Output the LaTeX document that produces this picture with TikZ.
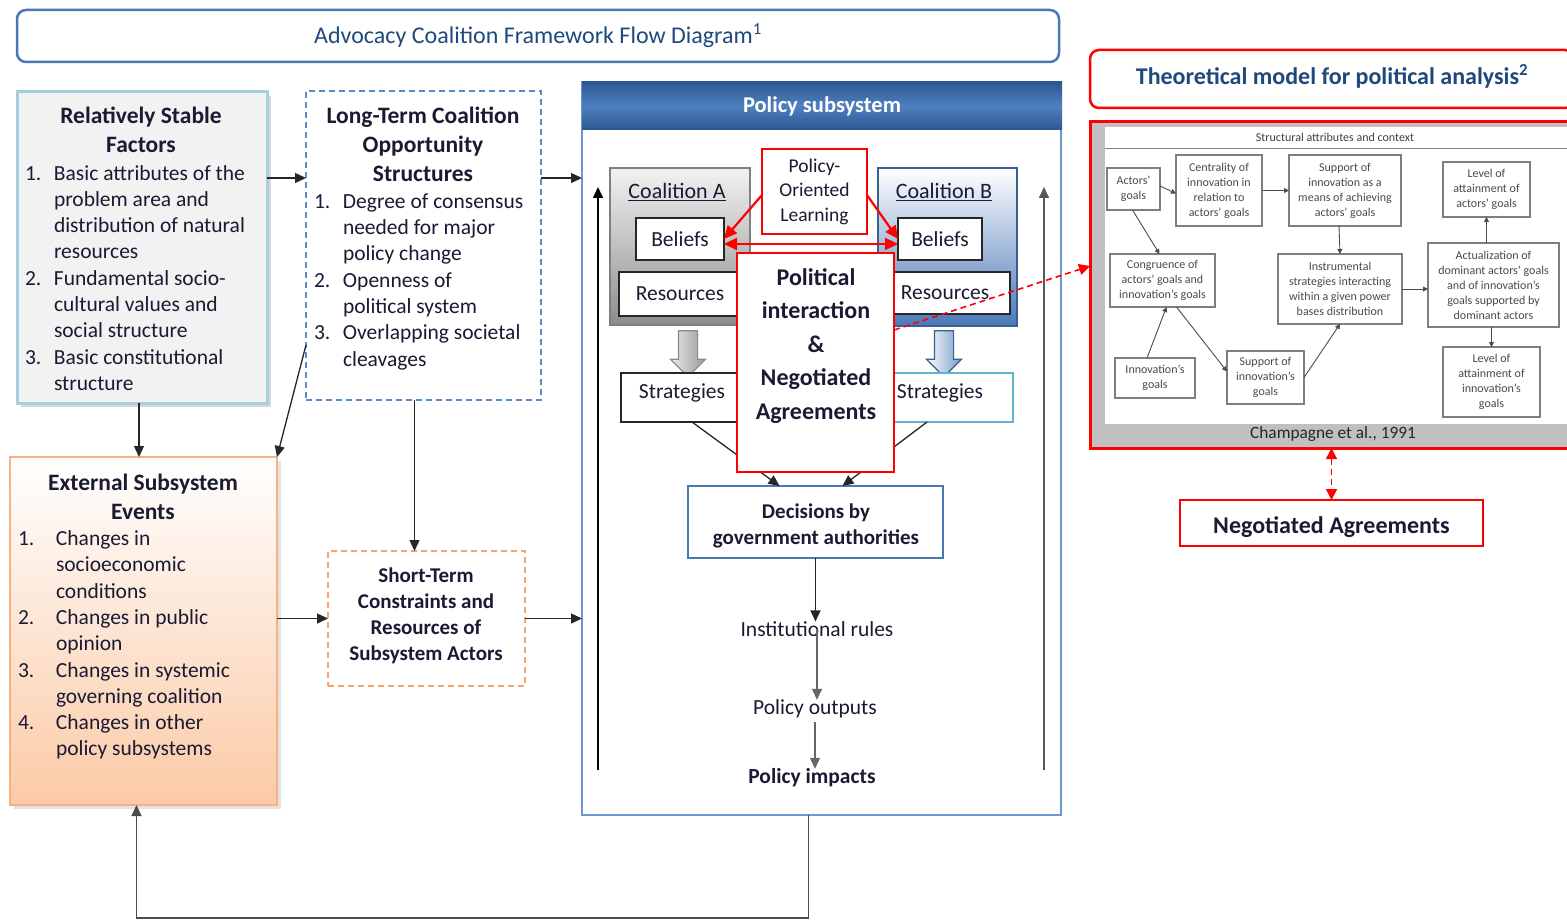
\documentclass[tikz,border=0pt]{standalone}
\usepackage{fontspec}
\setmainfont{Carlito}
\usepackage{xcolor}
\usetikzlibrary{
    arrows.meta,
    shapes.arrows,
    positioning,
    shadows,
    calc
}

\definecolor{hdrblue}{HTML}{1F497D}
\definecolor{frameblue}{HTML}{4A78B4}
\definecolor{subblue}{HTML}{6F97CF}
\definecolor{barblue}{HTML}{2C5791}
\definecolor{barlight}{HTML}{4F80BF}
\definecolor{stableedge}{HTML}{A7CEE0}
\definecolor{stablefill}{HTML}{F2F2F2}
\definecolor{peachfill}{HTML}{FBCAA6}
\definecolor{peachedge}{HTML}{F4B183}
\definecolor{dashorange}{HTML}{F4A46C}
\definecolor{dashblue}{HTML}{5B8AC8}
\definecolor{ink}{HTML}{1A1A33}
\definecolor{coalgray}{HTML}{7F7F7F}
\definecolor{coalblue}{HTML}{4A78B8}
\definecolor{coalblueedge}{HTML}{3A5F91}
\definecolor{stratedge}{HTML}{5FB4D0}
\definecolor{modelgray}{HTML}{C0C0C0}
\definecolor{smallink}{HTML}{4A4A4A}
\definecolor{smalledge}{HTML}{7F7F7F}

\newcommand{\setfs}[2]{\fontsize{#1}{#2}\selectfont}

\begin{document}
\begin{tikzpicture}[x=1pt, y=-1pt,
  every node/.style={inner sep=0pt, outer sep=0pt, text=ink},
  headbox/.style={rectangle, rounded corners=9pt, fill=white, line width=2.5pt,
    font=\setfs{24}{29}, text=hdrblue},
  stablebox/.style={rectangle, draw=stableedge, line width=3pt, fill=stablefill,
    drop shadow={shadow xshift=4pt, shadow yshift=-4pt, fill=black!30}},
  eventbox/.style={rectangle, draw=peachedge, line width=2pt,
    top color=white, bottom color=peachfill,
    drop shadow={shadow xshift=4pt, shadow yshift=-4pt, fill=black!22}},
  dashbox/.style={rectangle, line width=1.6pt, dash pattern=on 6pt off 4pt, fill=white},
  boxttl/.style={font=\bfseries\setfs{23.5}{29}, align=center},
  listtxt/.style={font=\setfs{21.5}{26.3}},
  psbody/.style={rectangle, draw=subblue, line width=1.8pt, fill=white},
  psbar/.style={rectangle, top color=barblue, bottom color=barblue, middle color=barlight,
    font=\bfseries\setfs{22.5}{27}, text=white},
  plainbox/.style={rectangle, draw=black!85, line width=1.8pt, fill=white,
    font=\setfs{21.5}{26}},
  redbox/.style={rectangle, draw=red, line width=2.5pt, fill=white},
  flowtxt/.style={font=\setfs{21.5}{26}},
  bigarrow/.style={single arrow, rotate=-90, minimum height=46pt, minimum width=34pt,
    inner ysep=9pt, single arrow head extend=8pt, line width=1.2pt},
  mini/.style={rectangle, draw=smalledge, line width=1.1pt, fill=white,
    font=\setfs{12}{15}, align=center, text=smallink},
  arr/.style={-{Triangle[length=11pt, width=10pt]}, line width=1.3pt, draw=black!85},
  redarr/.style={-{Triangle[length=13pt, width=12pt]}, line width=2.2pt, draw=red},
  reddash/.style={-{Triangle[length=11pt, width=11pt]}, line width=1.6pt, draw=red,
    dash pattern=on 6pt off 4pt},
  miniarr/.style={-{Triangle[length=5pt, width=5pt]}, line width=0.9pt, draw=black!70}
]
\useasboundingbox (0,0) rectangle (1567,920);

%% -- Title bars --
\node[headbox, draw=frameblue, minimum width=1042pt, minimum height=52pt, anchor=north west]
  (acf) at (17,10) {Advocacy Coalition Framework Flow Diagram\textsuperscript{1}};
\node[headbox, draw=red, minimum width=484pt, minimum height=58pt, anchor=north west,
  font=\bfseries\setfs{24}{29}, text depth=9pt]
  (tma) at (1090,50) {Theoretical model for political analysis\textsuperscript{2}};

%% -- Col 1: stable factors --
\node[stablebox, minimum width=250pt, minimum height=311pt, anchor=north west] (stable) at (17,92) {};
\node[boxttl] (stableT) at (141,130) {Relatively Stable\\Factors};
\node[listtxt, anchor=west] (stableL) at (25,280) {\begin{tabular}{@{}p{29pt}@{}l@{}}
  1. & Basic attributes of the\\
     & problem area and\\
     & distribution of natural\\
     & resources\\
  2. & Fundamental socio-\\
     & cultural values and\\
     & social structure\\
  3. & Basic constitutional\\
     & structure
\end{tabular}};

%% -- Col 2: long-term opportunity structures --
\node[dashbox, draw=dashblue, minimum width=235pt, minimum height=309pt, anchor=north west] (lt) at (306,91) {};
\node[boxttl] (ltT) at (423,144.5) {Long-Term Coalition\\Opportunity\\Structures};
\node[listtxt, anchor=west] (ltL) at (314,282) {\begin{tabular}{@{}p{29pt}@{}l@{}}
  1. & Degree of consensus\\
     & needed for major\\
     & policy change\\
  2. & Openness of\\
     & political system\\
  3. & Overlapping societal\\
     & cleavages
\end{tabular}};

%% -- External events --
\node[eventbox, minimum width=267pt, minimum height=348pt, anchor=north west] (ext) at (10,457) {};
\node[boxttl] (extT) at (143,496.5) {External Subsystem\\Events};
\node[listtxt, anchor=west] (extL) at (18,645.5) {\begin{tabular}{@{}p{38pt}@{}l@{}}
  1. & Changes in\\
     & socioeconomic\\
     & conditions\\
  2. & Changes in public\\
     & opinion\\
  3. & Changes in systemic\\
     & governing coalition\\
  4. & Changes in other\\
     & policy subsystems
\end{tabular}};

%% -- Short-term constraints --
\node[dashbox, draw=dashorange, minimum width=197pt, minimum height=135pt, anchor=north west] (st) at (328,551) {};
\node[font=\bfseries\setfs{21}{26}, align=center] (stT) at (426,616)
  {Short-Term\\Constraints and\\Resources of\\Subsystem Actors};

%% -- Left side connectors --
\coordinate (s2l) at ([yshift=-86pt]stable.north east);
\coordinate (l2p) at ([yshift=-87pt]lt.north east);
\draw[arr] (s2l) -- (s2l -| lt.west);
\draw[arr] ([xshift=-3pt]stable.south) -- ([xshift=-3pt]stable.south |- ext.north);
\draw[arr] ([yshift=-254pt]lt.north west) -- (ext.north east);
\draw[arr] ([xshift=-9pt]lt.south) -- ([xshift=-9pt]lt.south |- st.north);
\draw[arr] (st.west -| ext.east) -- (st.west);

%% -- Policy subsystem frame --
\node[psbody, minimum width=479pt, minimum height=733pt, anchor=north west] (ps) at (582,82) {};
\node[psbar, minimum width=480pt, minimum height=48pt, anchor=north west] (psbar) at (582,82) {Policy subsystem};
\draw[arr] (l2p) -- (l2p -| ps.west);
\draw[arr] (st.east) -- (st.east -| ps.west);

\coordinate (upLb) at (598,770);
\coordinate (upLt) at (598,187);
\coordinate (upRb) at (1044,770);
\coordinate (upRt) at (1044,187);
\draw[arr, line width=1.6pt, draw=black] (upLb) -- (upLt);
\draw[arr, line width=1.6pt, draw=black!65] (upRb) -- (upRt);

%% -- Coalitions --
\node[rectangle, draw=coalgray, line width=2.5pt, top color=black!5, bottom color=black!45,
  minimum width=140pt, minimum height=157pt, anchor=north west] (coalA) at (610,168) {};
\node[rectangle, draw=coalblueedge, line width=2.5pt, top color=white, bottom color=coalblue,
  minimum width=139pt, minimum height=158pt, anchor=north west] (coalB) at (878,168) {};
\node[font=\setfs{22}{26}] (coalAT) at (677,192) {\underline{Coalition A}};
\node[font=\setfs{22}{26}] (coalBT) at (944,192) {\underline{Coalition B}};

\node[plainbox, minimum width=88pt, minimum height=42pt, anchor=north west] (belA) at (636,218) {Beliefs};
\node[plainbox, minimum width=84pt, minimum height=42pt, anchor=north west] (belB) at (898,218) {Beliefs};
\node[plainbox, minimum width=122pt, minimum height=44pt, anchor=north west] (resA) at (619,272) {Resources};
\node[plainbox, minimum width=130pt, minimum height=42pt, anchor=north west] (resB) at (880,272) {Resources};

\node[bigarrow, draw=black!45, left color=black!8, right color=black!40] (barA) at (688,349) {};
\node[bigarrow, draw=coalblueedge, left color=white, right color=coalblue!75] (barB) at (944,349) {};

\node[plainbox, text depth=13pt, minimum width=122pt, minimum height=49pt, anchor=north west] (stA) at (621,373) {Strategies};
\node[plainbox, text depth=13pt, draw=stratedge, minimum width=146pt, minimum height=49pt, anchor=north west] (stB) at (867,373) {Strategies};

%% -- Decisions and outputs --
\node[rectangle, draw=frameblue, line width=2.5pt, fill=white, font=\bfseries\setfs{21}{26},
  minimum width=255pt, minimum height=72pt, anchor=north west]
  (dec) at (688,486) {};
\node[font=\bfseries\setfs{21}{26}, align=center] (decT) at (816,526) {Decisions by\\government authorities};
\draw[arr] ([xshift=10pt]stA.south) -- ([xshift=-36pt]dec.north);
\draw[arr] ([xshift=-13pt]stB.south) -- ([xshift=27pt]dec.north);

%% -- Political interaction (on top) --
\node[redbox, minimum width=157pt, minimum height=219pt, anchor=north west] (pol) at (737,253) {};
\node[font=\bfseries\setfs{24}{33.5}, align=center] (polT) at (816,346)
  {Political\\interaction\\\&\\Negotiated\\Agreements};
\node[redbox, font=\setfs{19.5}{24.5}, align=center, minimum width=105pt, minimum height=85pt,
  anchor=north west] (pol0) at (762,149) {Policy-\\Oriented\\Learning};

\draw[redarr] ([yshift=-46pt]pol0.north west) -- (belA.east);
\draw[redarr] ([yshift=-46pt]pol0.north east) -- (belB.west);
\draw[redarr, {Triangle[length=13pt, width=12pt]}-{Triangle[length=13pt, width=12pt]}]
  ([yshift=-5pt]belA.east) -- ([yshift=-5pt]belB.west);

\node[flowtxt] (inst) at (817,629) {Institutional rules};
\node[flowtxt] (outp) at (815,709) {Policy outputs};
\node[flowtxt, font=\bfseries\setfs{21.5}{26}] (imp) at (812,778) {Policy impacts};
\draw[arr] (dec.south) -- (dec.south |- inst.north);
\draw[arr, draw=black!60] (inst.center) -- (inst.center |- outp.north);
\draw[arr, draw=black!60] ([yshift=-4pt]outp.south) -- (outp.south |- imp.north);

%% -- Feedback loop --
\draw[arr, draw=black!70] ([xshift=-13pt]ps.south) -- ++(0,103) -| ([xshift=-7pt]ext.south);

%% -- Theoretical model (Champagne et al.) --
\node[rectangle, draw=red, line width=3pt, fill=modelgray, minimum width=485pt,
  minimum height=326pt, anchor=north west] (model) at (1090,122) {};
\node[rectangle, fill=white, minimum width=470pt, minimum height=297pt, anchor=north west]
  (panel) at (1105,127) {};
\draw[smalledge, line width=1pt] ([yshift=-22pt]panel.north west) -- ([yshift=-22pt]panel.north east);
\node[font=\setfs{12}{15}, text=black!75] (ctx) at (1335,137) {Structural attributes and context};
\node[font=\setfs{17.3}{21}, text=black!85] (cite) at (1333,434) {Champagne et al., 1991};

\node[mini, minimum width=53pt, minimum height=42pt, anchor=north west] (act) at (1107,168) {Actors'\\goals};
\node[mini, minimum width=86pt, minimum height=71pt, anchor=north west] (cen) at (1176,155) {Centrality of\\innovation in\\relation to\\actors' goals};
\node[mini, minimum width=112pt, minimum height=71pt, anchor=north west] (sup) at (1289,155) {Support of\\innovation as a\\means of achieving\\actors' goals};
\node[mini, minimum width=87pt, minimum height=55pt, anchor=north west] (lvA) at (1443,162) {Level of\\attainment of\\actors' goals};
\node[mini, minimum width=105pt, minimum height=53pt, anchor=north west] (con) at (1110,254) {Congruence of\\actors' goals and\\innovation's goals};
\node[mini, minimum width=124pt, minimum height=70pt, anchor=north west] (ins) at (1278,254) {Instrumental\\strategies interacting\\within a given power\\bases distribution};
\node[mini, minimum width=131pt, minimum height=84pt, anchor=north west] (actu) at (1428,243) {Actualization of\\dominant actors' goals\\and of innovation's\\goals supported by\\dominant actors};
\node[mini, minimum width=80pt, minimum height=40pt, anchor=north west] (ing) at (1115,358) {Innovation's\\goals};
\node[mini, minimum width=77pt, minimum height=53pt, anchor=north west] (sig) at (1227,351) {Support of\\innovation's\\goals};
\node[mini, minimum width=97pt, minimum height=70pt, anchor=north west] (lvI) at (1443,347) {Level of\\attainment of\\innovation's\\goals};

\draw[miniarr] ([yshift=3pt]act.east) -- ([yshift=-3pt]cen.west);
\draw[miniarr] (cen.east) -- (sup.west);
\draw[miniarr] ([xshift=-1pt]act.south) -- ([xshift=-3pt]con.north);
\draw[miniarr] ([xshift=-6pt]sup.south) -- (ins.north);
\draw[miniarr] (ins.east) -- (ins.east -| actu.west);
\draw[miniarr] (actu.north -| lvA.south) -- (lvA.south);
\draw[miniarr] (lvI.north |- actu.south) -- (lvI.north);
\draw[miniarr] ([xshift=-8pt]ing.north) -- ([xshift=4pt]con.south);
\draw[miniarr] ([xshift=14pt]con.south) -- ([yshift=6pt]sig.west);
\draw[miniarr] (sig.east) -- (ins.south);

%% -- Negotiated agreements link --
\node[redbox, font=\bfseries\setfs{24}{29}, text height=22pt, text depth=2pt, minimum width=303pt,
  minimum height=46pt, anchor=north west] (neg) at (1180,500) {Negotiated Agreements};
\draw[reddash, {Triangle[length=11pt, width=11pt]}-{Triangle[length=11pt, width=11pt]}]
  (neg.north |- model.south) -- (neg.north);
\draw[reddash] ([yshift=-77pt]pol.north east) -- ([yshift=-144pt]model.north west);

\end{tikzpicture}
\end{document}
